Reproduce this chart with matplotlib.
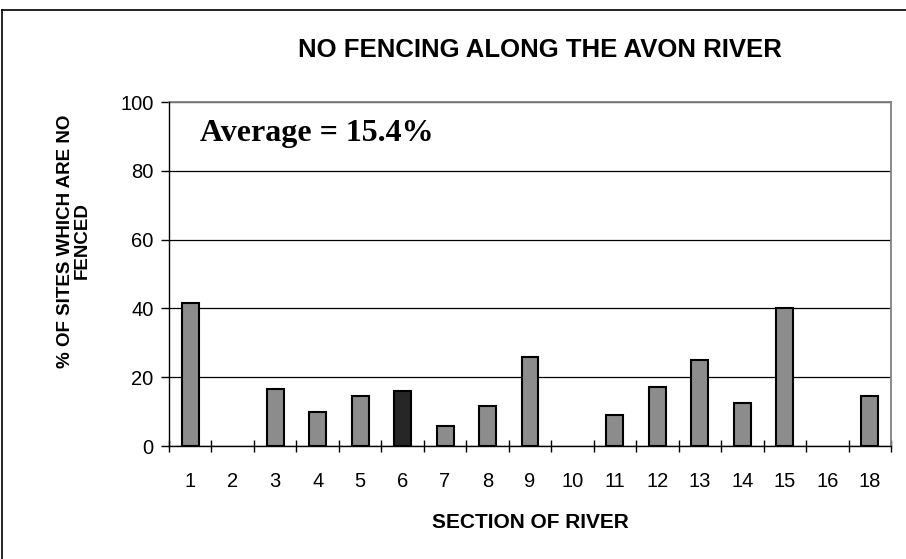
import matplotlib
matplotlib.use("Agg")
import matplotlib.pyplot as plt
from matplotlib.lines import Line2D

categories = ["1", "2", "3", "4", "5", "6", "7", "8", "9", "10", "11", "12", "13", "14", "15", "16", "18"]
values = [41.7, 0, 16.7, 10.0, 14.4, 16.0, 5.8, 11.5, 26.0, 0, 9.1, 17.2, 25.0, 12.6, 40.0, 0, 14.4]
highlight = "6"
yticks = [0, 20, 40, 60, 80, 100]

W, H = 906, 559
fig = plt.figure(figsize=(W / 100, H / 100), dpi=100)
fig.patch.set_facecolor("white")

ax = fig.add_axes([169 / W, 1 - 446 / H, (891 - 169) / W, (446 - 102) / H])

x = list(range(len(categories)))
colors = ["#262626" if c == highlight else "#8c8c8c" for c in categories]
lws = [1.5 if v > 0 else 0 for v in values]
ax.bar(x, values, width=0.4, color=colors, edgecolor="black", linewidth=lws, zorder=2)

ax.set_xlim(-0.5, len(categories) - 0.5)
ax.set_ylim(0, 100)
ax.set_yticks(yticks)
ax.set_yticklabels([str(t) for t in yticks], fontsize=14.5, family="Liberation Sans")
ax.set_xticks(x)
ax.set_xticklabels(categories, fontsize=14.5, family="Liberation Sans")
ax.tick_params(axis="x", length=0, pad=19)
ax.tick_params(axis="y", length=6, direction="out", width=1, pad=5)
# boundary ticks on x-axis
ax.set_xticks([i - 0.5 for i in range(len(categories) + 1)], minor=True)
ax.tick_params(axis="x", which="minor", length=8, direction="inout", width=1)

ax.yaxis.grid(True, color="#000000", linewidth=0.9, zorder=0)
ax.set_axisbelow(True)
for s in ["top", "right"]:
    ax.spines[s].set_color("#808080")
    ax.spines[s].set_linewidth(1.3)
for s in ["left", "bottom"]:
    ax.spines[s].set_color("black")
    ax.spines[s].set_linewidth(1.0)
    ax.spines[s].set_zorder(3)

fig.text(540 / W, 1 - 50 / H, "NO FENCING ALONG THE AVON RIVER", ha="center", va="center",
         fontsize=18.5, fontweight="bold", family="Liberation Sans")
fig.text(317 / W, 1 - 133 / H, "Average = 15.4%", ha="center", va="center",
         fontsize=23, fontweight="bold", family="Liberation Serif")
fig.text(530 / W, 1 - 523 / H, "SECTION OF RIVER", ha="center", va="center",
         fontsize=15, fontweight="bold", family="Liberation Sans")
fig.text(74 / W, 1 - 241 / H, "% OF SITES WHICH ARE NO\nFENCED", ha="center", va="center",
         rotation=90, fontsize=13.5, fontweight="bold", family="Liberation Sans", linespacing=1.0)

# outer border (top and left visible)
fig.add_artist(Line2D([1.5 / W, 1.0], [1 - 10 / H, 1 - 10 / H], transform=fig.transFigure, color="black", linewidth=1.2))
fig.add_artist(Line2D([1.5 / W, 1.5 / W], [0, 1 - 10 / H], transform=fig.transFigure, color="black", linewidth=1.2))

fig.savefig("out.png", dpi=100, facecolor="white")
